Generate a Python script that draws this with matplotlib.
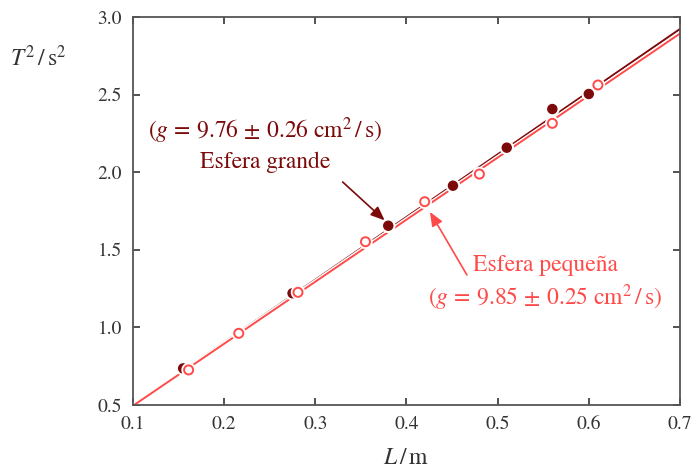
import numpy as np
import matplotlib.pyplot as plt
import matplotlib.patheffects as pe


# plot setup
plt.rc('font', **{'family': 'serif', 'serif': ['STIXGeneral', 'DejaVu Serif']})
plt.rc('mathtext', fontset='stix')
plt.rc('xtick', labelsize=14, direction='in', top=True, color='#444444', labelcolor='#333333')
plt.rc('ytick', labelsize=14, direction='in', right=True, color='#444444', labelcolor='#333333')
plt.rcParams['axes.linewidth'] = 1.3
plt.rcParams['axes.edgecolor'] = '#555555'
plt.rcParams['xtick.major.width'] = 1.3
plt.rcParams['xtick.major.size'] = 5
plt.rcParams['ytick.major.width'] = 1.3
plt.rcParams['ytick.major.size'] = 5

dark = '#7d0a0a'
light = '#ff4a4a'

# datos
L_grande = [0.155, 0.275, 0.380, 0.451, 0.510, 0.560, 0.600]
T2_grande = [0.736, 1.220, 1.655, 1.913, 2.158, 2.407, 2.504]
L_peq = [0.161, 0.216, 0.281, 0.355, 0.420, 0.480, 0.560, 0.610]
T2_peq = [0.726, 0.962, 1.226, 1.552, 1.810, 1.988, 2.315, 2.562]

# rectas de ajuste T^2 = a + b L
a_grande, b_grande = 0.0962, 4.038
a_peq, b_peq = 0.0955, 3.997
L_fit = np.array([0.1, 0.7])

xticks = [0.1, 0.2, 0.3, 0.4, 0.5, 0.6, 0.7]
yticks = [0.5, 1.0, 1.5, 2.0, 2.5, 3.0]

fig = plt.figure(figsize=(6.91, 4.70), dpi=100)
ax = fig.add_axes([0.1925, 0.1383, 0.7915, 0.8255])

halo = [pe.withStroke(linewidth=3.4, foreground='white')]
halo_m = [pe.withStroke(linewidth=4.0, foreground='white')]
ax.plot(L_fit, a_grande + b_grande*L_fit, color=dark, lw=1.4, path_effects=halo, zorder=2)
ax.plot(L_fit, a_peq + b_peq*L_fit, color=light, lw=1.4, path_effects=halo, zorder=2)

ax.plot(L_grande, T2_grande, 'o', color=dark, ms=6.5, mec=dark, path_effects=halo_m, zorder=3)
ax.plot(L_peq, T2_peq, 'o', mfc='white', mec=light, mew=1.4, ms=6.5, path_effects=halo_m, zorder=3)

ax.annotate('', xy=(0.376, 1.69), xytext=(0.330, 1.937),
            arrowprops=dict(arrowstyle='-|>,head_length=0.6,head_width=0.25', color=dark, lw=1.2,
                            mutation_scale=14, shrinkA=0, shrinkB=0))
ax.annotate('', xy=(0.4258, 1.744), xytext=(0.4663, 1.338),
            arrowprops=dict(arrowstyle='-|>,head_length=0.6,head_width=0.25', color=light, lw=1.2,
                            mutation_scale=14, shrinkA=0, shrinkB=0))

ax.text(0.2448, 2.27, r'$(g\, =\, 9.76 \,\pm\, 0.26\ \mathrm{cm^2\,/\,s})$', color=dark, fontsize=17,
        ha='center', va='center')
ax.text(0.2448, 2.066, 'Esfera grande', color=dark, fontsize=17, ha='center', va='center')
ax.text(0.552, 1.40, 'Esfera pequeña', color=light, fontsize=17, ha='center', va='center')
ax.text(0.552, 1.19, r'$(g\, =\, 9.85 \,\pm\, 0.25\ \mathrm{cm^2\,/\,s})$', color=light, fontsize=17,
        ha='center', va='center')

ax.set_xlim(0.1, 0.7)
ax.set_ylim(0.5, 3.0)
ax.set_xticks(xticks)
ax.set_yticks(yticks)
ax.set_xticklabels([f'{v:.1f}' for v in xticks])
ax.set_yticklabels([f'{v:.1f}' for v in yticks])
ax.tick_params(axis='x', pad=8)
ax.tick_params(axis='y', pad=8)

fig.text(406/691, 1 - 458/470, r'$L\,/\,\mathrm{m}$', fontsize=17, ha='center', va='center', color='#333333')
fig.text(38/691, 1 - 58/470, r'$T^2\,/\,\mathrm{s}^2$', fontsize=17, ha='center', va='center', color='#333333')

plt.savefig('out.png', dpi=100)
